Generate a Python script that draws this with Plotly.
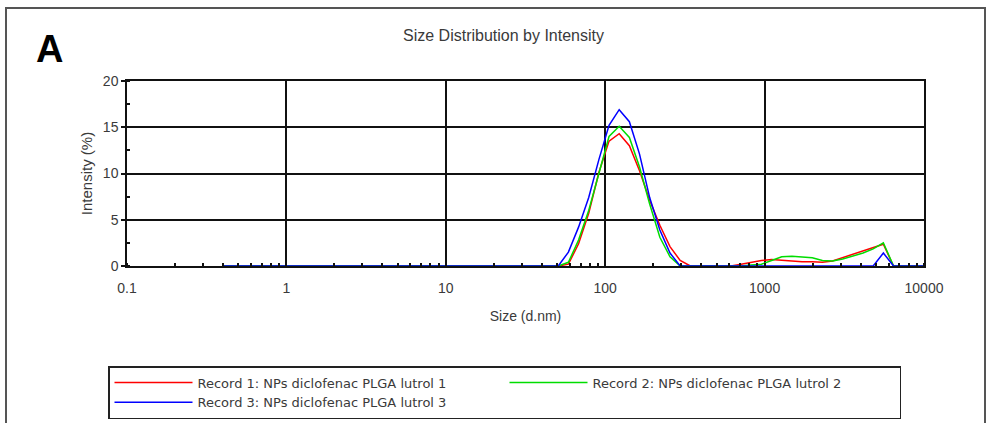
import plotly.graph_objects as go

# Size bins (d.nm)
sizes = [0.4, 0.4632, 0.5365, 0.6213, 0.7195, 0.8332, 0.9649, 1.117, 1.294, 1.499,
         1.736, 2.01, 2.328, 2.696, 3.122, 3.615, 4.187, 4.849, 5.615, 6.503,
         7.531, 8.721, 10.1, 11.7, 13.54, 15.69, 18.17, 21.04, 24.36, 28.21,
         32.67, 37.84, 43.82, 50.75, 58.77, 68.06, 78.82, 91.28, 105.7, 122.4,
         141.8, 164.2, 190.1, 220.2, 255.0, 295.3, 342.0, 396.1, 458.7, 531.2,
         615.1, 712.4, 825.0, 955.4, 1106, 1281, 1484, 1718, 1990, 2305,
         2669, 3091, 3580, 4145, 4801, 5560, 6439, 7456, 8635, 10000]

record1 = [0, 0, 0, 0, 0, 0, 0, 0, 0, 0,
           0, 0, 0, 0, 0, 0, 0, 0, 0, 0,
           0, 0, 0, 0, 0, 0, 0, 0, 0, 0,
           0, 0, 0, 0, 0.2, 2.4, 5.7, 10.1, 13.5, 14.3,
           13.0, 10.3, 7.1, 4.4, 2.1, 0.6, 0, 0, 0, 0,
           0, 0.2, 0.4, 0.6, 0.7, 0.6, 0.5, 0.45, 0.45, 0.4,
           0.55, 0.9, 1.25, 1.6, 2.0, 2.35, 0, 0, 0, 0]

record2 = [0, 0, 0, 0, 0, 0, 0, 0, 0, 0,
           0, 0, 0, 0, 0, 0, 0, 0, 0, 0,
           0, 0, 0, 0, 0, 0, 0, 0, 0, 0,
           0, 0, 0, 0, 0.4, 2.8, 6.0, 10.0, 14.0, 15.1,
           13.9, 10.7, 6.7, 3.1, 1.0, 0, 0, 0, 0, 0,
           0, 0, 0.1, 0.2, 0.6, 1.0, 1.05, 1.0, 0.9, 0.6,
           0.55, 0.75, 1.1, 1.4, 1.85, 2.5, 0, 0, 0, 0]

record3 = [0, 0, 0, 0, 0, 0, 0, 0, 0, 0,
           0, 0, 0, 0, 0, 0, 0, 0, 0, 0,
           0, 0, 0, 0, 0, 0, 0, 0, 0, 0,
           0, 0, 0, 0, 1.5, 4.2, 7.4, 11.5, 15.2, 16.9,
           15.6, 12.1, 7.4, 3.9, 1.4, 0, 0, 0, 0, 0,
           0, 0, 0, 0, 0, 0, 0, 0, 0, 0,
           0, 0, 0, 0, 0, 1.4, 0, 0, 0, 0]

series_names = ["Record 1: NPs diclofenac PLGA lutrol 1",
                "Record 2: NPs diclofenac PLGA lutrol 2",
                "Record 3: NPs diclofenac PLGA lutrol 3"]
series_values = [record1, record2, record3]
series_colors = ["#ff0000", "#00dd00", "#0000ff"]

x_tickvals = [0.1, 1, 10, 100, 1000, 10000]
x_ticktext = ["0.1", "1", "10", "100", "1000", "10000"]
y_tickvals = [0, 5, 10, 15, 20]

FONT = "Liberation Sans, Arial, sans-serif"
TXT = "#3a3a3a"

fig = go.Figure()
for name, vals, col in zip(series_names, series_values, series_colors):
    fig.add_trace(go.Scatter(x=sizes, y=vals, mode="lines", name=name,
                             line=dict(color=col, width=1.5)))

L, R, T, B = 127, 66, 81, 157
W, H = 990, 423
pw, ph = W - L - R, H - T - B

def px(xp):
    return (xp - L) / pw

def py(yp):
    return (H - B - yp) / ph

fig.update_layout(
    width=W, height=H,
    margin=dict(l=L, r=R, t=T, b=B, autoexpand=False),
    paper_bgcolor="white", plot_bgcolor="white",
    font=dict(family=FONT, color=TXT, size=13),
    showlegend=True,
    legend=dict(
        orientation="h", x=px(108), y=py(366), xanchor="left", yanchor="top",
        bordercolor="#222", borderwidth=1.5, bgcolor="white",
        font=dict(family="DejaVu Sans, sans-serif", size=13, color=TXT),
        entrywidth=302, entrywidthmode="pixels", itemwidth=78,
        traceorder="normal",
    ),
    xaxis=dict(
        type="log", range=[-1, 4],
        tickmode="array", tickvals=x_tickvals, ticktext=x_ticktext,
        showgrid=True, gridcolor="#111", gridwidth=1.5,
        showline=True, linecolor="#111", linewidth=1.5, mirror=True,
        ticks="", tickfont=dict(size=14, color=TXT), ticklabelstandoff=8,
        minor=dict(ticks="inside", ticklen=3, tickcolor="#111", tickwidth=1.5,
                   dtick="D1", showgrid=False),
        title=dict(text="Size (d.nm)", font=dict(size=14, color=TXT), standoff=17),
        zeroline=False,
    ),
    yaxis=dict(
        range=[0, 20], tickmode="array", tickvals=y_tickvals,
        showgrid=True, gridcolor="#111", gridwidth=1.5,
        showline=True, linecolor="#111", linewidth=1.5, mirror=True,
        ticks="outside", ticklen=4, tickcolor="#111", tickwidth=1.5,
        tickfont=dict(size=14, color=TXT),
        minor=dict(ticks="inside", ticklen=3, tickcolor="#111", tickwidth=1.5,
                   dtick=2.5, showgrid=False),
        title=dict(text="Intensity (%)", font=dict(size=15, color=TXT), standoff=7),
        zeroline=False,
    ),
    shapes=[dict(type="rect", xref="paper", yref="paper",
                 x0=px(6), x1=px(985), y0=py(440), y1=py(8),
                 line=dict(color="#555", width=2), fillcolor="rgba(0,0,0,0)",
                 layer="below")],
    annotations=[
        dict(text="<b>A</b>", xref="paper", yref="paper", x=px(34), y=py(49),
             xanchor="left", yanchor="middle", showarrow=False,
             font=dict(family=FONT, size=38, color="#000")),
        dict(text="Size Distribution by Intensity", xref="paper", yref="paper",
             x=px(503), y=py(35), xanchor="center", yanchor="middle", showarrow=False,
             font=dict(family=FONT, size=16, color=TXT)),
    ],
)

fig.write_html("out.html", config={"displayModeBar": False},
               post_script="document.body.style.margin='0';")
